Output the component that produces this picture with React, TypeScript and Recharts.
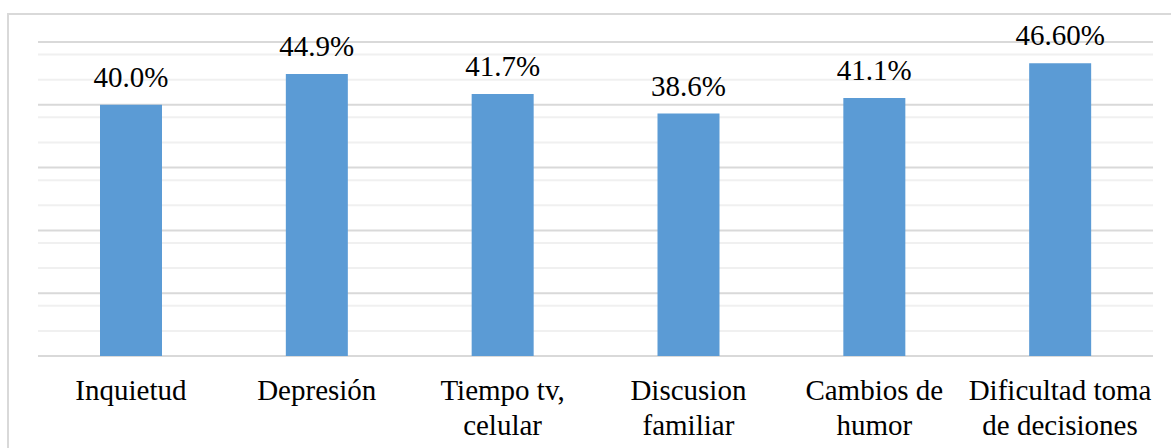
import React from 'react'
import { BarChart, Bar, XAxis, YAxis, CartesianGrid, LabelList } from 'recharts'

const categories = [
  'Inquietud',
  'Depresión',
  'Tiempo tv,\ncelular',
  'Discusion\nfamiliar',
  'Cambios de\nhumor',
  'Dificultad toma\nde decisiones',
]
const values = [40.0, 44.9, 41.7, 38.6, 41.1, 46.6]
const valueLabels = ['40.0%', '44.9%', '41.7%', '38.6%', '41.1%', '46.60%']
const majorTicks = [0, 10, 20, 30, 40, 50]
const minorTicks = [2, 4, 6, 8, 12, 14, 16, 18, 22, 24, 26, 28, 32, 34, 36, 38, 42, 44, 46, 48]

const data = categories.map((name, i) => ({ name, value: values[i], label: valueLabels[i] }))

const FONT = 'Liberation Serif'

const CategoryTick = (props: any) => {
  const { x, y, payload } = props
  const lines = String(payload.value).split('\n')
  return (
    <g>
      {lines.map((line, i) => (
        <text
          key={i}
          x={x}
          y={y + 44 + i * 35}
          textAnchor="middle"
          fill="#000"
          fontFamily={FONT}
          fontSize={29}
          style={{ fontFamily: FONT, fontSize: 29 }}
        >
          {line}
        </text>
      ))}
    </g>
  )
}

const ValueLabel = (props: any) => {
  const { x, y, width, value } = props
  return (
    <text
      x={x + width / 2}
      y={y - 18}
      textAnchor="middle"
      fill="#000"
      fontFamily={FONT}
      fontSize={29}
      style={{ fontFamily: FONT, fontSize: 29 }}
    >
      {value}
    </text>
  )
}

export default function App() {
  return (
    <div style={{ position: 'fixed', left: 0, top: 0, width: 1171, height: 448, overflow: 'hidden', background: '#fff', fontFamily: FONT }}>
      <div
        style={{
          position: 'absolute',
          left: 7,
          top: 13,
          width: 1200,
          height: 480,
          border: '2px solid #d9d9d9',
        }}
      />
      <div style={{ position: 'absolute', left: 0, top: 0 }}>
        <BarChart
          width={1171}
          height={448}
          data={data}
          margin={{ top: 42, right: 18, bottom: 0, left: 38 }}
          style={{ fontFamily: FONT }}
        >
          <YAxis hide domain={[0, 50]} ticks={majorTicks} />
          <CartesianGrid vertical={false} horizontalValues={minorTicks} stroke="#f0f0f0" strokeWidth={2} />
          <CartesianGrid vertical={false} horizontalValues={majorTicks} stroke="#d9d9d9" strokeWidth={2} />
          <XAxis
            dataKey="name"
            height={92}
            axisLine={false}
            tickLine={false}
            tickSize={0}
            tickMargin={0}
            interval={0}
            tick={<CategoryTick />}
          />
          <Bar dataKey="value" fill="#5b9bd5" barSize={62} isAnimationActive={false}>
            <LabelList dataKey="label" content={<ValueLabel />} />
          </Bar>
        </BarChart>
      </div>
    </div>
  )
}
